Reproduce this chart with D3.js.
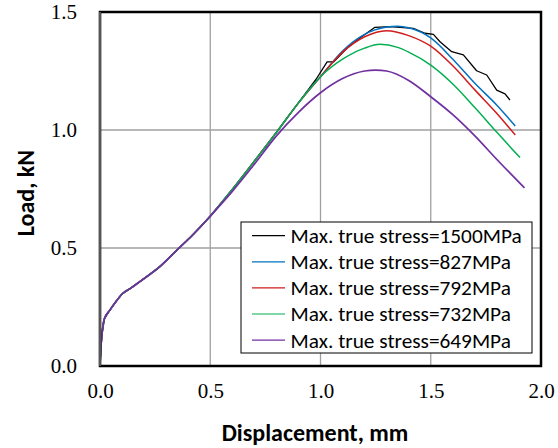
<!DOCTYPE html>
<html>
<head>
<meta charset="utf-8">
<script src="https://cdn.jsdelivr.net/npm/d3@7"></script>
<style>
  body { margin: 0; background: #fff; }
  svg { display: block; }
</style>
</head>
<body>
<svg id="chart"></svg>
<script>
// shared loading branch (all five curves lie on top of each other here)
const riseDisp = [0, 0.003, 0.008, 0.02, 0.045, 0.07, 0.1, 0.14, 0.18, 0.27, 0.35, 0.42, 0.5];
const riseLoad = [0, 0.06, 0.125, 0.2, 0.237, 0.27, 0.305, 0.33, 0.357, 0.42, 0.492, 0.555, 0.635];

// after divergence
const disp1500 = [0.6, 0.7, 0.8, 0.9, 0.98, 1.03, 1.06, 1.12, 1.18, 1.247, 1.315, 1.421, 1.474, 1.512, 1.542, 1.595, 1.648, 1.708, 1.754, 1.799, 1.837, 1.859];
const load1500 = [0.748, 0.868, 0.99, 1.115, 1.215, 1.289, 1.289, 1.346, 1.391, 1.435, 1.438, 1.431, 1.41, 1.405, 1.374, 1.332, 1.318, 1.251, 1.233, 1.169, 1.153, 1.127];

const disp827 = [0.6, 0.7, 0.8, 0.9, 1.0, 1.1, 1.2, 1.3, 1.35, 1.4, 1.5, 1.6, 1.7, 1.8, 1.883];
const load827 = [0.748, 0.868, 0.99, 1.115, 1.226, 1.335, 1.405, 1.436, 1.44, 1.433, 1.39, 1.3, 1.198, 1.105, 1.017];

const disp792 = [0.6, 0.7, 0.8, 0.9, 1.0, 1.1, 1.2, 1.3, 1.4, 1.5, 1.6, 1.7, 1.8, 1.883];
const load792 = [0.748, 0.868, 0.99, 1.115, 1.226, 1.33, 1.395, 1.421, 1.4, 1.355, 1.272, 1.17, 1.07, 0.979];

const disp732 = [0.6, 0.7, 0.8, 0.9, 1.0, 1.1, 1.2, 1.27, 1.35, 1.4, 1.5, 1.6, 1.7, 1.8, 1.905];
const load732 = [0.748, 0.868, 0.99, 1.115, 1.226, 1.3, 1.347, 1.363, 1.35, 1.33, 1.275, 1.195, 1.095, 0.99, 0.883];

const disp649 = [0.6, 0.7, 0.8, 0.9, 1.0, 1.1, 1.2, 1.25, 1.3, 1.4, 1.5, 1.6, 1.7, 1.8, 1.925];
const load649 = [0.74, 0.855, 0.975, 1.075, 1.158, 1.218, 1.25, 1.254, 1.25, 1.21, 1.141, 1.065, 0.975, 0.875, 0.755];

const seriesNames = ['Max. true stress=1500MPa', 'Max. true stress=827MPa', 'Max. true stress=792MPa', 'Max. true stress=732MPa', 'Max. true stress=649MPa'];
const seriesColors = ['#000000', '#0070c0', '#d01c1c', '#00b050', '#7030a0'];

const xTicks = [0, 0.5, 1.0, 1.5, 2.0];
const yTicks = [0, 0.5, 1.0, 1.5];

const width = 558;
const height = 448;
const margin = { top: 12, right: 17, bottom: 82, left: 100 };

const toPoints = (xs, ys) => riseDisp.map((d, i) => [d, riseLoad[i]])
    .concat(xs.map((d, i) => [d, ys[i]]));

const series = [
    { name: seriesNames[0], color: seriesColors[0], points: toPoints(disp1500, load1500), curve: d3.curveLinear, w: 1.3 },
    { name: seriesNames[1], color: seriesColors[1], points: toPoints(disp827, load827), curve: d3.curveMonotoneX, w: 1.5 },
    { name: seriesNames[2], color: seriesColors[2], points: toPoints(disp792, load792), curve: d3.curveMonotoneX, w: 1.5 },
    { name: seriesNames[3], color: seriesColors[3], points: toPoints(disp732, load732), curve: d3.curveMonotoneX, w: 1.5 },
    { name: seriesNames[4], color: seriesColors[4], points: toPoints(disp649, load649), curve: d3.curveMonotoneX, w: 1.7 }
];

const svg = d3.select('#chart')
    .attr('width', width)
    .attr('height', height);

const x = d3.scaleLinear().domain([0, 2]).range([margin.left, width - margin.right]);
const y = d3.scaleLinear().domain([0, 1.5]).range([height - margin.bottom, margin.top]);

const sansFont = 'Carlito, Calibri, "Open Sans", sans-serif';
const serifFont = '"Liberation Serif", "Times New Roman", serif';

// grid
svg.append('g')
    .selectAll('line.vgrid')
    .data(xTicks.slice(1, -1))
    .enter()
    .append('line')
    .attr('x1', (d) => x(d)).attr('x2', (d) => x(d))
    .attr('y1', y(0)).attr('y2', y(1.5))
    .style('stroke', '#a0a0a0')
    .style('stroke-width', 1.3);

svg.append('g')
    .selectAll('line.hgrid')
    .data(yTicks.slice(1, -1))
    .enter()
    .append('line')
    .attr('x1', x(0)).attr('x2', x(2))
    .attr('y1', (d) => y(d)).attr('y2', (d) => y(d))
    .style('stroke', '#a0a0a0')
    .style('stroke-width', 1.3);

// curves
const line = (curve) => d3.line()
    .x((d) => x(d[0]))
    .y((d) => y(d[1]))
    .curve(curve);

svg.append('g')
    .selectAll('path')
    .data(series)
    .enter()
    .append('path')
    .attr('d', (d) => line(d.curve)(d.points))
    .style('fill', 'none')
    .style('stroke', (d) => d.color)
    .style('stroke-width', (d) => d.w)
    .style('stroke-linejoin', 'round');

// frame
svg.append('rect')
    .attr('x', x(0))
    .attr('y', y(1.5))
    .attr('width', x(2) - x(0))
    .attr('height', y(0) - y(1.5))
    .style('fill', 'none')
    .style('stroke', '#000')
    .style('stroke-width', 2.5);

svg.append('line')
    .attr('x1', x(0)).attr('x2', x(0))
    .attr('y1', y(1.5)).attr('y2', y(0))
    .style('stroke', '#555')
    .style('stroke-width', 2.2);

// axes labels (no tick marks in the original)
const xAxis = d3.axisBottom(x).tickValues(xTicks).tickFormat(d3.format('.1f')).tickSize(0).tickPadding(17);
const yAxis = d3.axisLeft(y).tickValues(yTicks).tickFormat(d3.format('.1f')).tickSize(0).tickPadding(23);

svg.append('g')
    .attr('transform', `translate(0,${y(0)})`)
    .call(xAxis)
    .call((g) => g.select('.domain').remove())
    .selectAll('text')
    .attr('font-family', serifFont)
    .attr('font-size', 21)
    .attr('fill', '#000');

svg.append('g')
    .attr('transform', `translate(${x(0)},0)`)
    .call(yAxis)
    .call((g) => g.select('.domain').remove())
    .selectAll('text')
    .attr('font-family', serifFont)
    .attr('font-size', 21)
    .attr('fill', '#000');

svg.append('text')
    .attr('x', 315)
    .attr('y', 441)
    .attr('text-anchor', 'middle')
    .attr('font-family', sansFont)
    .attr('font-weight', 'bold')
    .attr('font-size', 24)
    .text('Displacement, mm');

svg.append('text')
    .attr('transform', 'translate(34,193) rotate(-90)')
    .attr('text-anchor', 'middle')
    .attr('font-family', sansFont)
    .attr('font-weight', 'bold')
    .attr('font-size', 24)
    .text('Load, kN');

// legend
const legend = svg.append('g').attr('transform', 'translate(241,222)');

legend.append('rect')
    .attr('width', 291)
    .attr('height', 131)
    .style('fill', '#fff')
    .style('stroke', '#000')
    .style('stroke-width', 1);

const rows = legend.selectAll('g.row')
    .data(series)
    .enter()
    .append('g')
    .attr('class', 'row')
    .attr('transform', (d, i) => `translate(0,${13.7 + i * 26.1})`);

rows.append('line')
    .attr('x1', 11).attr('x2', 44)
    .style('stroke', (d) => d.color)
    .style('stroke-width', 1.2);

rows.append('text')
    .attr('x', 49.5)
    .attr('dy', '0.35em')
    .attr('font-family', sansFont)
    .attr('font-size', 21.3)
    .text((d) => d.name);
</script>
</body>
</html>
